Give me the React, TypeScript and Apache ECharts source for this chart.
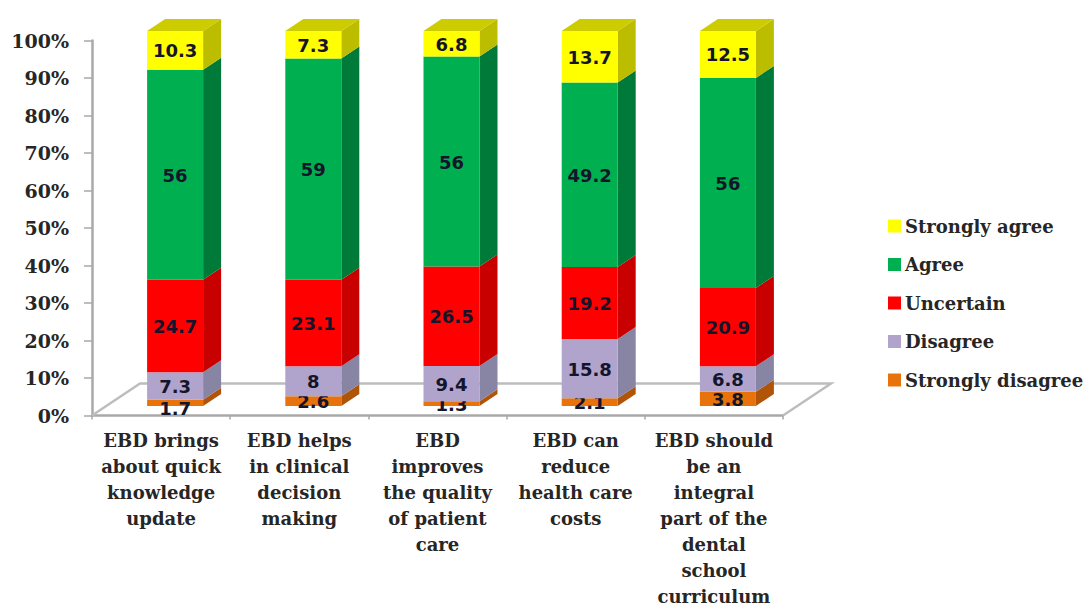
import React, { useEffect, useRef } from "react";
import * as echarts from "echarts";

const categories = [
  "EBD brings\nabout quick\nknowledge\nupdate",
  "EBD helps\nin clinical\ndecision\nmaking",
  "EBD\nimproves\nthe quality\nof patient\ncare",
  "EBD can\nreduce\nhealth care\ncosts",
  "EBD should\nbe an\nintegral\npart of the\ndental\nschool\ncurriculum",
];

const stronglyDisagree = [1.7, 2.6, 1.3, 2.1, 3.8];
const disagree = [7.3, 8, 9.4, 15.8, 6.8];
const uncertain = [24.7, 23.1, 26.5, 19.2, 20.9];
const agree = [56, 59, 56, 49.2, 56];
const stronglyAgree = [10.3, 7.3, 6.8, 13.7, 12.5];

const legendOrder = ["Strongly agree", "Agree", "Uncertain", "Disagree", "Strongly disagree"];

const SERIF = '"DejaVu Serif", serif';
const SANS = '"DejaVu Sans", sans-serif';
const AXIS_GREY = "#a9a9a9";

// Oblique projection of the bars and of the floor, in pixels.
const BAR_WIDTH = 56;
const BAR_DX = 14;
const BAR_LIFT = 9.5;
const DEPTH_X = 18;
const DEPTH_Y = 12;
const FLOOR_X = 48;
const FLOOR_Y = 32;
const LABEL_DROP = 0.5;
// The first bar's thin base label sits lower so it clears the label above it.
const labelExtraDrop = (layerName: string, category: number) =>
  layerName === "Strongly disagree" && category === 0 ? 5 : 0;

const layers = [
  { name: "Strongly disagree", values: stronglyDisagree, front: "#e8730c", side: "#b05408", top: "#c96008" },
  { name: "Disagree", values: disagree, front: "#b0a4cc", side: "#8884a4", top: "#9c90b0" },
  { name: "Uncertain", values: uncertain, front: "#ff0000", side: "#c80000", top: "#d80000" },
  { name: "Agree", values: agree, front: "#00b050", side: "#007a38", top: "#008c40" },
  { name: "Strongly agree", values: stronglyAgree, front: "#ffff00", side: "#bdbd00", top: "#cccc00" },
];

function segmentSeries(layer: (typeof layers)[number], layerIndex: number) {
  const rows = layer.values.map((value, cat) => {
    const start = layers.slice(0, layerIndex).reduce((sum, l) => sum + l.values[cat], 0);
    return [cat, start, start + value, value];
  });
  return {
    type: "custom",
    name: layer.name,
    z: 3 + layerIndex,
    itemStyle: { color: layer.front },
    data: rows,
    encode: { x: 0, y: 2 },
    renderItem: (_params: any, api: any) => {
      const category = api.value(0);
      const [cx, y0] = api.coord([category, api.value(1)]);
      const [, y1] = api.coord([category, api.value(2)]);
      const left = cx + BAR_DX - BAR_WIDTH / 2;
      const right = left + BAR_WIDTH;
      const bottom = y0 - BAR_LIFT;
      const top = y1 - BAR_LIFT;
      const children: any[] = [
        {
          type: "polygon",
          shape: {
            points: [
              [right, top],
              [right + DEPTH_X, top - DEPTH_Y],
              [right + DEPTH_X, bottom - DEPTH_Y],
              [right, bottom],
            ],
          },
          style: { fill: layer.side },
        },
        {
          type: "rect",
          shape: { x: left, y: top, width: BAR_WIDTH, height: bottom - top },
          style: { fill: layer.front },
        },
      ];
      if (layerIndex === layers.length - 1) {
        children.push({
          type: "polygon",
          shape: {
            points: [
              [left, top],
              [left + DEPTH_X, top - DEPTH_Y],
              [right + DEPTH_X, top - DEPTH_Y],
              [right, top],
            ],
          },
          style: { fill: layer.top },
        });
      }
      children.push({
        type: "text",
        z2: 10,
        style: {
          text: String(api.value(3)),
          x: (left + right) / 2,
          y: (top + bottom) / 2 + LABEL_DROP + labelExtraDrop(layer.name, category),
          align: "center",
          verticalAlign: "middle",
          font: `bold 18px ${SANS}`,
          fill: "#14142a",
        },
      });
      return { type: "group", children };
    },
  };
}

const floorSeries = {
  type: "custom",
  silent: true,
  z: 1,
  data: [[0]],
  encode: { x: 0 },
  renderItem: (params: any) => {
    const grid = params.coordSys;
    const x0 = grid.x;
    const x1 = grid.x + grid.width;
    const y = grid.y + grid.height;
    return {
      type: "polyline",
      shape: {
        points: [
          [x0, y],
          [x0 + FLOOR_X, y - FLOOR_Y],
          [x1 + FLOOR_X, y - FLOOR_Y],
          [x1, y],
        ],
      },
      style: { fill: "none", stroke: "#bdbdbd", lineWidth: 2.5 },
    };
  },
};

export default function App() {
  const ref = useRef<HTMLDivElement>(null);

  useEffect(() => {
    if (!ref.current) return;
    const chart = echarts.init(ref.current, undefined, { renderer: "svg" });
    chart.setOption({
      animation: false,
      backgroundColor: "#ffffff",
      grid: { left: 92, top: 40.5, width: 691, height: 375, outerBoundsMode: "none" },
      legend: {
        orient: "vertical",
        left: 883,
        top: 212,
        itemWidth: 13,
        itemHeight: 13,
        itemGap: 20.5,
        icon: "rect",
        data: legendOrder,
        selectedMode: false,
        textStyle: { fontFamily: SERIF, fontWeight: "bold", fontSize: 18, color: "#262626", padding: [0, 0, 0, -1] },
      },
      xAxis: {
        type: "category",
        data: categories,
        axisLine: { lineStyle: { color: AXIS_GREY, width: 2.5 } },
        axisTick: { show: true, alignWithLabel: false, length: 4, lineStyle: { color: AXIS_GREY, width: 1.5 } },
        axisLabel: {
          interval: 0,
          margin: 11.5,
          lineHeight: 26,
          fontFamily: SERIF,
          fontWeight: "bold",
          fontSize: 18,
          color: "#262626",
        },
      },
      yAxis: {
        type: "value",
        min: 0,
        max: 100,
        interval: 10,
        axisLine: { show: true, lineStyle: { color: AXIS_GREY, width: 2.5 } },
        axisTick: { show: true, length: 8, lineStyle: { color: AXIS_GREY, width: 1.5 } },
        splitLine: { show: false },
        axisLabel: {
          formatter: "{value}%",
          margin: 23,
          fontFamily: SERIF,
          fontWeight: "bold",
          fontSize: 19,
          color: "#262626",
        },
      },
      series: [floorSeries, ...layers.map(segmentSeries)],
    });
    return () => chart.dispose();
  }, []);

  return <div ref={ref} style={{ position: "fixed", left: 0, top: 0, width: 1088, height: 608 }} />;
}
